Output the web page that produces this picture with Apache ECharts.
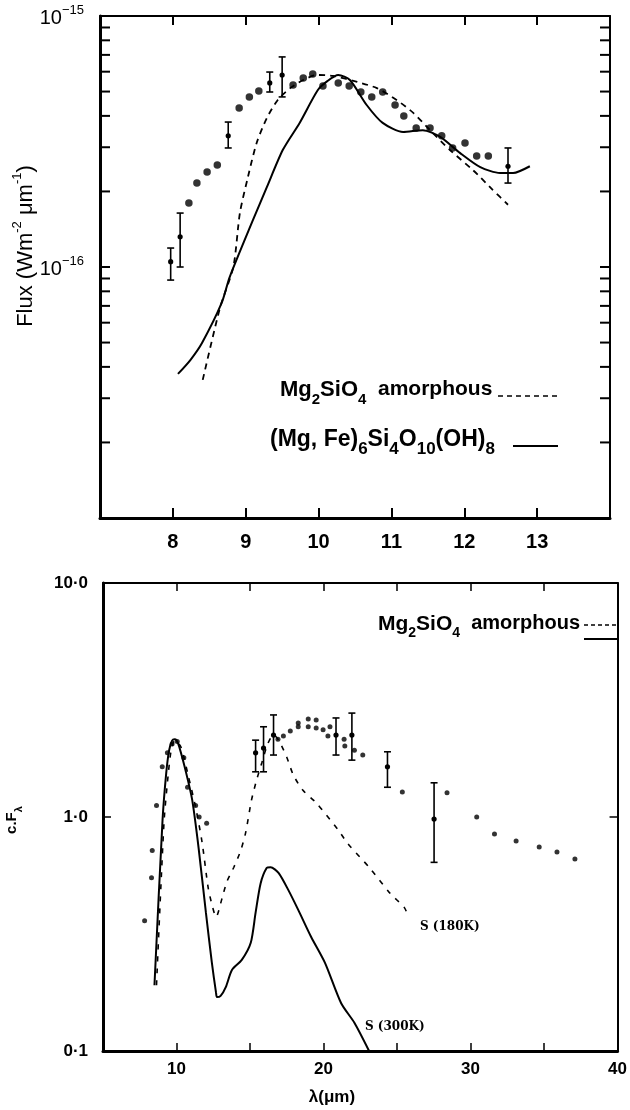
<!DOCTYPE html>
<html><head><meta charset="utf-8">
<script src="https://cdn.jsdelivr.net/npm/echarts@6/dist/echarts.min.js"></script>
<style>html,body{margin:0;padding:0;background:#fff}#c{width:630px;height:1110px}</style>
</head><body><div id="c"></div>
<script>
// ---------- TOP PANEL (flux in units of 1e-16 W m^-2 um^-1) ----------
const topObsX = [8.22, 8.33, 8.47, 8.61, 8.91, 9.05, 9.18, 9.65, 9.79, 9.92, 10.06, 10.27, 10.42, 10.58, 10.73, 10.88, 11.05, 11.17, 11.34, 11.53, 11.69, 11.84, 12.01, 12.17, 12.33];
const topObsY = [1.80, 2.16, 2.39, 2.55, 4.30, 4.76, 5.03, 5.31, 5.66, 5.87, 5.26, 5.41, 5.26, 4.98, 4.76, 4.98, 4.42, 4.00, 3.58, 3.58, 3.33, 2.98, 3.12, 2.77, 2.77];
const topErrX  = [7.97, 8.10, 8.76, 9.33, 9.50, 12.60];
const topErrY  = [1.05, 1.32, 3.33, 5.41, 5.82, 2.52];
const topErrLo = [0.887, 1.00, 2.98, 4.98, 4.76, 2.16];
const topErrHi = [1.19, 1.64, 3.78, 5.98, 6.87, 2.98];
const topAmorphX = [8.41, 8.65, 8.83, 8.92, 9.03, 9.15, 9.29, 9.44, 9.61, 9.79, 9.98, 10.20, 10.53, 10.80, 11.07, 11.30, 11.53, 11.80, 12.12, 12.39, 12.60];
const topAmorphY = [0.355, 0.693, 1.00, 1.64, 2.28, 3.12, 3.92, 4.63, 5.16, 5.56, 5.82, 5.77, 5.46, 5.16, 4.63, 4.11, 3.51, 2.93, 2.43, 2.03, 1.77];
const topChlorX = [8.07, 8.24, 8.40, 8.67, 8.78, 9.10, 9.29, 9.51, 9.74, 9.99, 10.12, 10.27, 10.43, 10.66, 10.88, 11.16, 11.43, 11.67, 11.94, 12.22, 12.49, 12.67, 12.90];
const topChlorY = [0.375, 0.426, 0.498, 0.719, 0.912, 1.54, 2.08, 2.93, 3.75, 5.07, 5.50, 5.82, 5.56, 4.42, 3.75, 3.45, 3.51, 3.30, 2.85, 2.50, 2.37, 2.37, 2.52];
const topXTicks = [8, 9, 10, 11, 12, 13];
const topMinorTicks = [0.2, 0.3, 0.4, 0.5, 0.6, 0.7, 0.8, 0.9, 2, 3, 4, 5, 6, 7, 8, 9];

// ---------- BOTTOM PANEL ----------
const botObsX = [7.83, 8.3, 8.35, 8.64, 9.03, 9.38, 9.7, 10.05, 10.5, 10.75, 11.3, 11.54, 12.05, 16.9, 17.27, 17.74, 18.28, 18.28, 18.96, 18.96, 19.5, 19.5, 19.97, 20.3, 20.44, 21.4, 21.45, 22.1, 22.67, 25.36, 28.4, 30.42, 31.63, 33.1, 34.67, 35.88, 37.1];
const botObsY = [0.36, 0.55, 0.72, 1.12, 1.64, 1.88, 2.05, 2.1, 1.79, 1.34, 1.12, 1.0, 0.94, 2.15, 2.22, 2.33, 2.52, 2.43, 2.62, 2.43, 2.6, 2.4, 2.36, 2.22, 2.43, 2.15, 2.01, 1.93, 1.84, 1.28, 1.27, 1.0, 0.846, 0.79, 0.745, 0.708, 0.662];
const botErrX  = [15.38, 15.92, 16.6, 20.85, 21.93, 24.35, 27.52];
const botErrY  = [1.88, 1.97, 2.24, 2.24, 2.24, 1.64, 0.98];
const botErrLo = [1.56, 1.56, 1.84, 1.84, 1.75, 1.34, 0.64];
const botErrHi = [2.13, 2.43, 2.73, 2.65, 2.78, 1.90, 1.40];
const s180X = [8.64, 9.15, 9.45, 9.65, 9.9, 10.3, 10.8, 11.3, 11.74, 12.15, 12.42, 12.69, 13.1, 13.43, 13.9, 14.37, 14.7, 15.1, 15.45, 15.8, 16.2, 16.6, 17.0, 17.5, 17.95, 18.6, 19.5, 21.0, 21.65, 23.1, 24.55, 25.5, 25.8];
const s180Y = [0.191, 0.95, 1.55, 1.95, 2.13, 1.99, 1.5, 1.1, 0.78, 0.50, 0.42, 0.374, 0.45, 0.53, 0.61, 0.72, 0.855, 1.18, 1.44, 1.70, 2.05, 2.25, 2.1, 1.80, 1.51, 1.30, 1.15, 0.88, 0.77, 0.61, 0.47, 0.41, 0.37];
const s300X = [8.5, 9.05, 9.3, 9.5, 9.7, 9.86, 10.0, 10.19, 10.66, 11.07, 11.5, 12.0, 12.4, 12.69, 12.75, 13.0, 13.36, 13.77, 14.44, 15.05, 15.38, 15.72, 16.13, 16.4, 16.94, 17.61, 18.28, 19.16, 20.1, 21.2, 22.1, 23.1];
const s300Y = [0.191, 0.97, 1.54, 1.93, 2.12, 2.15, 2.13, 1.99, 1.54, 1.18, 0.74, 0.39, 0.24, 0.177, 0.170, 0.172, 0.188, 0.222, 0.245, 0.29, 0.39, 0.52, 0.605, 0.61, 0.577, 0.487, 0.401, 0.307, 0.238, 0.160, 0.132, 0.1];
const botXLabels = [10, 20, 30, 40];
const botYLabels = {'10': '10·0', '1': '1·0', '0.1': '0·1'};
const topYLabels = {'10': '−15', '1': '−16'};

const FONT = "'Liberation Sans', Arial, sans-serif";
const zip = (a, b) => a.map((v, i) => [v, b[i]]);
const zipErr = (x, lo, hi, y) => x.map((v, i) => [v, lo[i], hi[i], y[i]]);

function errRender(params, api) {
  const x = api.value(0), lo = api.value(1), hi = api.value(2), y = api.value(3);
  const pLo = api.coord([x, lo]), pHi = api.coord([x, hi]), pC = api.coord([x, y]);
  const cap = 3.5;
  const st = {stroke: '#000', lineWidth: 1.6, fill: null};
  return {type: 'group', children: [
    {type: 'line', shape: {x1: pLo[0], y1: pLo[1], x2: pHi[0], y2: pHi[1]}, style: st},
    {type: 'line', shape: {x1: pLo[0] - cap, y1: pLo[1], x2: pLo[0] + cap, y2: pLo[1]}, style: st},
    {type: 'line', shape: {x1: pHi[0] - cap, y1: pHi[1], x2: pHi[0] + cap, y2: pHi[1]}, style: st},
    {type: 'circle', shape: {cx: pC[0], cy: pC[1], r: 2.6}, style: {fill: '#000'}}
  ]};
}
function minorRender(params, api) {
  const v = api.value(1);
  const l = api.coord([7, v]), r = api.coord([14, v]);
  const st = {stroke: '#000', lineWidth: 2};
  return {type: 'group', children: [
    {type: 'line', shape: {x1: l[0], y1: l[1], x2: l[0] + 10, y2: l[1]}, style: st},
    {type: 'line', shape: {x1: r[0] - 10, y1: r[1], x2: r[0], y2: r[1]}, style: st}
  ]};
}

const near = (a, b) => Math.abs(a - b) < 1e-6 * Math.max(1, Math.abs(b));
const tickStyle = (len, w) => ({show: true, inside: true, length: len, lineStyle: {color: '#000', width: w}});
const lineStyle = w => ({show: true, onZero: false, lineStyle: {color: '#000', width: w}});
const mkRich = (b, u, a) => ({
  b: {fontSize: b, fontWeight: 'bold', fontFamily: FONT, fill: '#000', lineHeight: b + 6, verticalAlign: 'top'},
  u: {fontSize: u, fontWeight: 'bold', fontFamily: FONT, fill: '#000', lineHeight: u, verticalAlign: 'bottom'},
  a: {fontSize: a, fontWeight: 'bold', fontFamily: FONT, fill: '#000', lineHeight: b + 6, verticalAlign: 'top'}
});

const chart = echarts.init(document.getElementById('c'), null, {renderer: 'canvas'});
chart.setOption({
  animation: false,
  backgroundColor: '#fff',
  grid: [
    {left: 100, top: 16, width: 510, height: 502},
    {left: 103, top: 583, width: 519, height: 468}
  ],
  xAxis: [
    {gridIndex: 0, type: 'value', min: 7, max: 14, interval: 1, position: 'bottom',
     axisLine: lineStyle(3), axisTick: tickStyle(10, 2), splitLine: {show: false},
     axisLabel: {margin: 14, fontSize: 20, fontWeight: 'bold', color: '#000', fontFamily: FONT,
       formatter: v => topXTicks.includes(v) ? String(v) : ''}},
    {gridIndex: 0, type: 'value', min: 7, max: 14, interval: 1, position: 'top',
     axisLine: lineStyle(2), axisTick: tickStyle(9, 2), splitLine: {show: false}, axisLabel: {show: false}},
    {gridIndex: 1, type: 'value', min: 5, max: 40, interval: 5, position: 'bottom',
     axisLine: lineStyle(3), axisTick: tickStyle(8, 1.5), splitLine: {show: false},
     axisLabel: {margin: 10, fontSize: 17, fontWeight: 'bold', color: '#000', fontFamily: FONT,
       formatter: v => botXLabels.includes(v) ? String(v) : ''}},
    {gridIndex: 1, type: 'value', min: 5, max: 40, interval: 5, position: 'top',
     axisLine: lineStyle(2), axisTick: tickStyle(8, 1.5), splitLine: {show: false}, axisLabel: {show: false}}
  ],
  yAxis: [
    {gridIndex: 0, type: 'log', logBase: 10, min: 0.1, max: 10, splitNumber: 2, position: 'left',
     axisLine: lineStyle(3), axisTick: tickStyle(10, 2), splitLine: {show: false},
     axisLabel: {margin: 16, color: '#000', fontFamily: FONT,
       formatter: v => { for (const k in topYLabels) if (near(v, +k)) return '{b|10}{s|' + topYLabels[k] + '}'; return ''; },
       rich: {b: {fontSize: 20, fontFamily: FONT, color: '#000', lineHeight: 24, verticalAlign: 'bottom'},
              s: {fontSize: 13, fontFamily: FONT, color: '#000', lineHeight: 13, verticalAlign: 'top'}}}},
    {gridIndex: 0, type: 'log', logBase: 10, min: 0.1, max: 10, splitNumber: 2, position: 'right',
     axisLine: lineStyle(2), axisTick: tickStyle(10, 2), splitLine: {show: false}, axisLabel: {show: false}},
    {gridIndex: 1, type: 'log', logBase: 10, min: 0.1, max: 10, splitNumber: 2, position: 'left',
     axisLine: lineStyle(3), axisTick: tickStyle(8, 1.5), splitLine: {show: false},
     axisLabel: {margin: 15, fontSize: 17, fontWeight: 'bold', color: '#000', fontFamily: FONT,
       formatter: v => { for (const k in botYLabels) if (near(v, +k)) return botYLabels[k]; return ''; }}},
    {gridIndex: 1, type: 'log', logBase: 10, min: 0.1, max: 10, splitNumber: 2, position: 'right',
     axisLine: lineStyle(2), axisTick: tickStyle(8, 1.5), splitLine: {show: false}, axisLabel: {show: false}}
  ],
  series: [
    {type: 'custom', xAxisIndex: 0, yAxisIndex: 0, renderItem: minorRender, data: topMinorTicks.map(v => [7, v]), encode: {x: 0, y: 1}, clip: false, silent: true},
    {type: 'line', xAxisIndex: 0, yAxisIndex: 0, data: zip(topAmorphX, topAmorphY), showSymbol: false, smooth: 0.25,
     lineStyle: {color: '#000', width: 1.8, type: [6, 5]}},
    {type: 'line', xAxisIndex: 0, yAxisIndex: 0, data: zip(topChlorX, topChlorY), showSymbol: false, smooth: 0.25,
     lineStyle: {color: '#000', width: 2}},
    {type: 'scatter', xAxisIndex: 0, yAxisIndex: 0, data: zip(topObsX, topObsY), symbol: 'circle', symbolSize: 7.5, itemStyle: {color: '#000'}},
    {type: 'custom', xAxisIndex: 0, yAxisIndex: 0, renderItem: errRender, data: zipErr(topErrX, topErrLo, topErrHi, topErrY), encode: {x: 0, y: [1, 2, 3]}},

    {type: 'line', xAxisIndex: 2, yAxisIndex: 2, data: zip(s180X, s180Y), showSymbol: false, smooth: 0.25,
     lineStyle: {color: '#000', width: 1.6, type: [5, 7]}},
    {type: 'line', xAxisIndex: 2, yAxisIndex: 2, data: zip(s300X, s300Y), showSymbol: false, smooth: 0.25,
     lineStyle: {color: '#000', width: 2}},
    {type: 'scatter', xAxisIndex: 2, yAxisIndex: 2, data: zip(botObsX, botObsY), symbol: 'circle', symbolSize: 5, itemStyle: {color: '#000'}},
    {type: 'custom', xAxisIndex: 2, yAxisIndex: 2, renderItem: errRender, data: zipErr(botErrX, botErrLo, botErrHi, botErrY), encode: {x: 0, y: [1, 2, 3]}}
  ],
  graphic: [
    {type: 'text', x: 24, y: 246, rotation: Math.PI / 2,
     style: {text: '{n|Flux (Wm}{s|-2}{n| μm}{s|-1}{n|)}', align: 'center', verticalAlign: 'middle',
       rich: {n: {fontSize: 22, fontFamily: FONT, fill: '#000', lineHeight: 26, verticalAlign: 'bottom'},
              s: {fontSize: 13, fontFamily: FONT, fill: '#000', lineHeight: 13, verticalAlign: 'top'}}}},
    {type: 'text', x: 280, y: 393,
     style: {text: '{b|Mg}{u|2}{b|SiO}{u|4}{a|  amorphous}', align: 'left', verticalAlign: 'middle', rich: mkRich(22, 15, 21)}},
    {type: 'line', shape: {x1: 498, y1: 396, x2: 560, y2: 396}, style: {stroke: '#000', lineWidth: 1.5, lineDash: [5, 4]}},
    {type: 'text', x: 270, y: 443,
     style: {text: '{b|(Mg, Fe)}{u|6}{b|Si}{u|4}{b|O}{u|10}{b|(OH)}{u|8}', align: 'left', verticalAlign: 'middle', rich: mkRich(23, 17, 23)}},
    {type: 'line', shape: {x1: 513, y1: 446, x2: 558, y2: 446}, style: {stroke: '#000', lineWidth: 1.8}},
    {type: 'text', x: 378, y: 627,
     style: {text: '{b|Mg}{u|2}{b|SiO}{u|4}{a|  amorphous}', align: 'left', verticalAlign: 'middle', rich: mkRich(21, 14, 20)}},
    {type: 'line', shape: {x1: 584, y1: 625, x2: 619, y2: 625}, style: {stroke: '#000', lineWidth: 1.5, lineDash: [4, 3]}},
    {type: 'line', shape: {x1: 584, y1: 639, x2: 619, y2: 639}, style: {stroke: '#000', lineWidth: 1.8}},
    {type: 'text', x: 420, y: 927, style: {text: 'S (180K)', font: "bold 12px 'DejaVu Serif', serif", fill: '#000', align: 'left', verticalAlign: 'middle'}},
    {type: 'text', x: 365, y: 1027, style: {text: 'S (300K)', font: "bold 12px 'DejaVu Serif', serif", fill: '#000', align: 'left', verticalAlign: 'middle'}},
    {type: 'text', x: 14, y: 820, rotation: Math.PI / 2,
     style: {text: '{n|c.F}{u|λ}', align: 'center', verticalAlign: 'middle',
       rich: {n: {fontSize: 15, fontWeight: 'bold', fontFamily: FONT, fill: '#000', lineHeight: 20, verticalAlign: 'top'},
              u: {fontSize: 11, fontWeight: 'bold', fontFamily: FONT, fill: '#000', lineHeight: 11, verticalAlign: 'bottom'}}}},
    {type: 'text', x: 332, y: 1097, style: {text: 'λ(μm)', font: "bold 17px 'Liberation Sans', Arial, sans-serif", fill: '#000', align: 'center', verticalAlign: 'middle'}}
  ]
});
</script></body></html>
